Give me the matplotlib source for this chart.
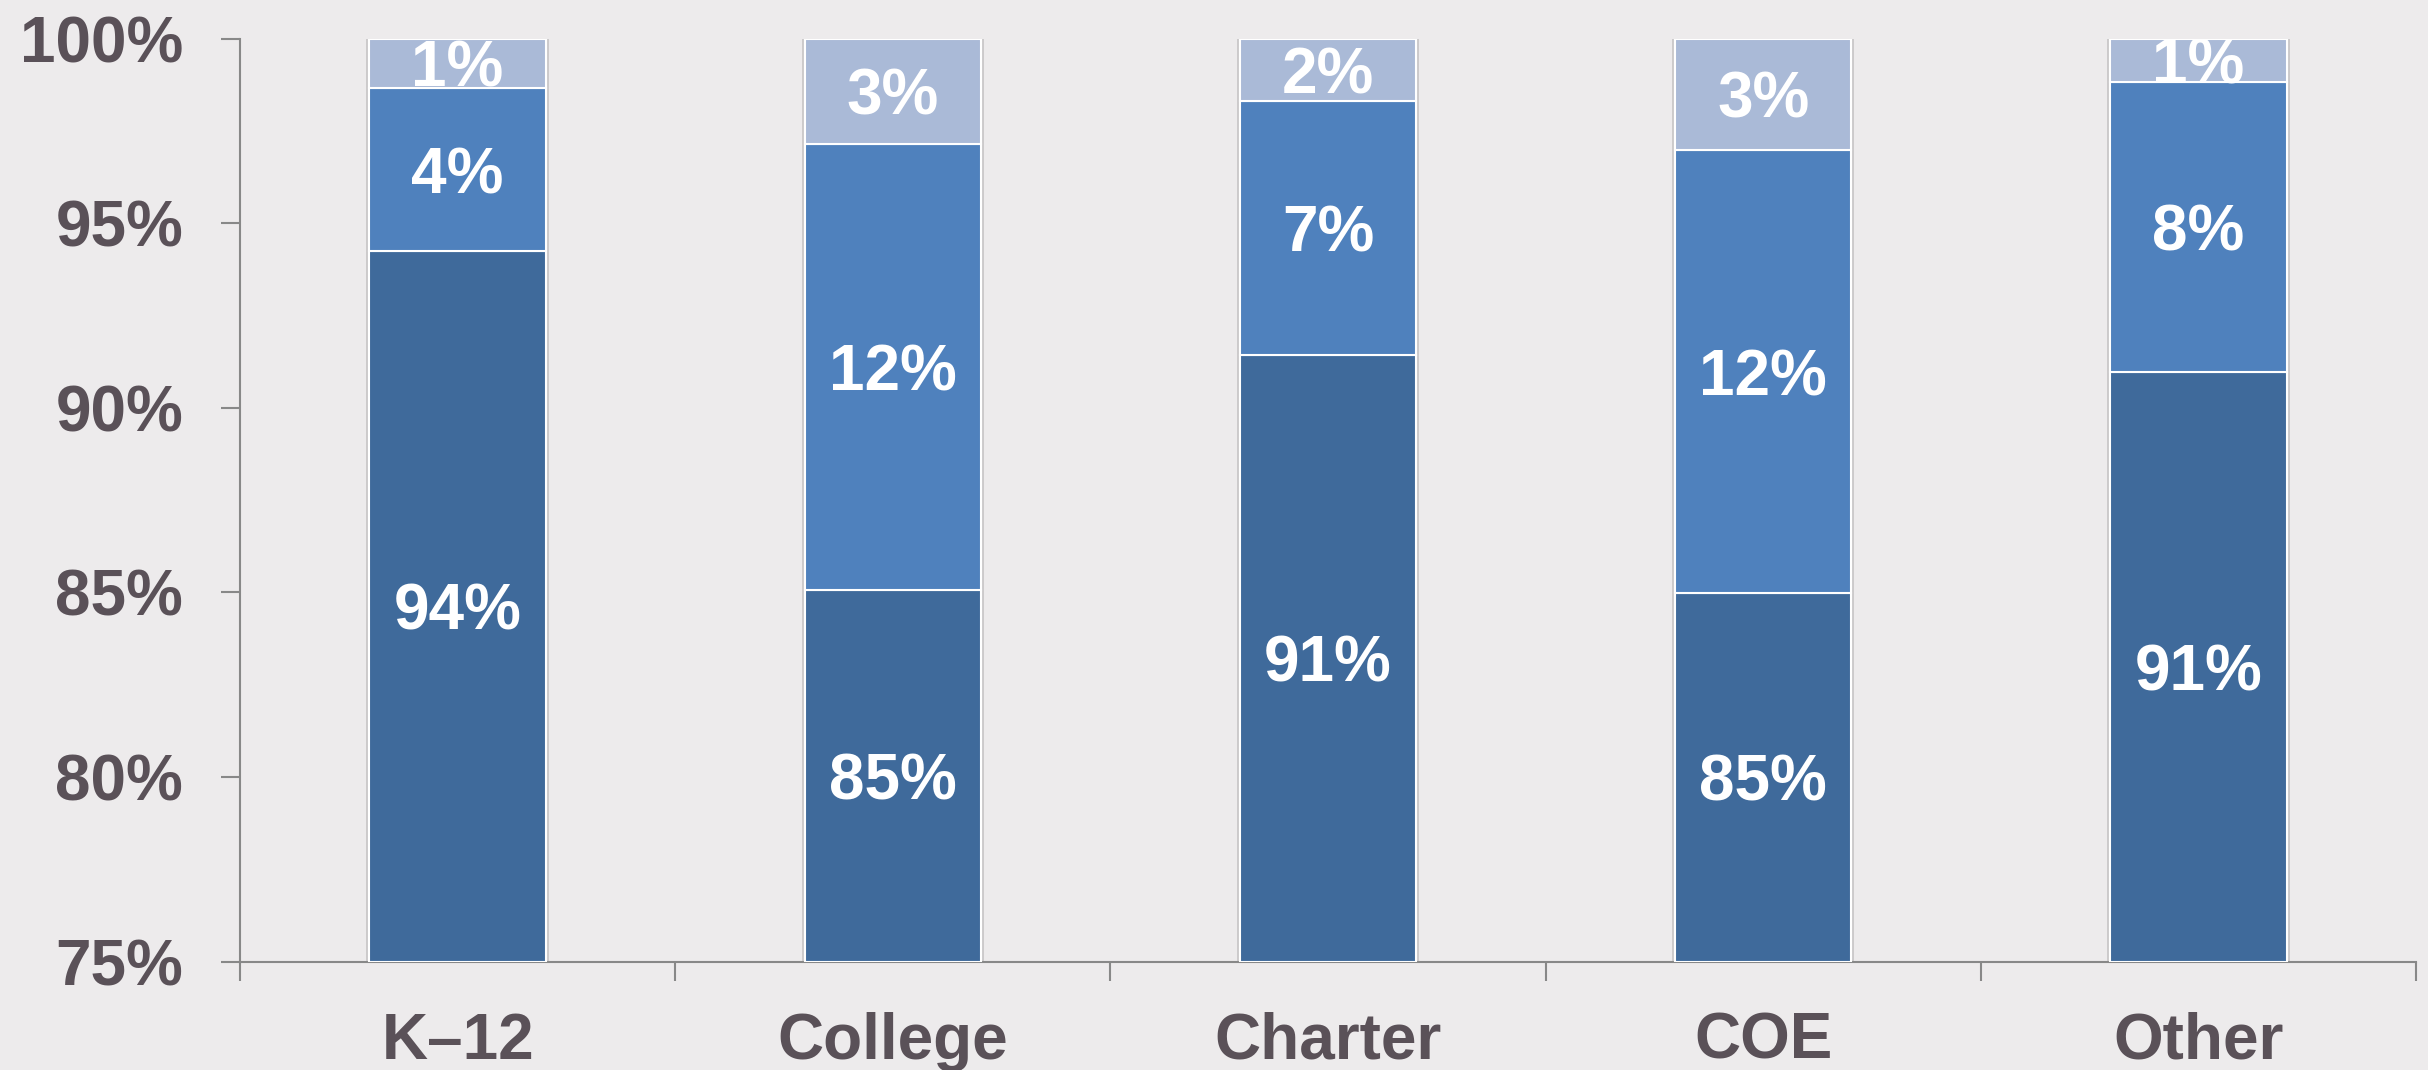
import matplotlib
matplotlib.use("Agg")
import matplotlib.pyplot as plt
import numpy as np

categories = ["K\u201312", "College", "Charter", "COE", "Other"]
seg_bottom = [94.25, 85.07, 91.44, 84.98, 90.98]
seg_middle = [4.41, 12.08, 6.88, 12.00, 7.85]
seg_top = [1.34, 2.85, 1.68, 3.02, 1.17]
label_bottom = ["94%", "85%", "91%", "85%", "91%"]
label_middle = ["4%", "12%", "7%", "12%", "8%"]
label_top = ["1%", "3%", "2%", "3%", "1%"]
yticks = [75, 80, 85, 90, 95, 100]
ytick_labels = ["75%", "80%", "85%", "90%", "95%", "100%"]

bg = "#EDEBEC"
c_dark = "#3F6A9B"
c_mid = "#4F81BD"
c_light = "#AABAD7"
txt_col = "#5A5158"
axis_col = "#888888"

plt.rcParams['font.family'] = ['Liberation Sans', 'DejaVu Sans']

fig = plt.figure(figsize=(24.28, 10.70), dpi=100, facecolor=bg)
ax = fig.add_axes([240/2428, 1-961.6/1070, (2416-240)/2428, (961.6-38.7)/1070])
ax.set_facecolor(bg)

x = np.arange(len(categories))
w = 0.405
ymin = 75
b = np.array(seg_bottom)
m = np.array(seg_middle)
t = np.array(seg_top)

ax.bar(x, b - ymin, w, bottom=ymin, color=c_dark, edgecolor="white", linewidth=1.5, zorder=3)
ax.bar(x, m, w, bottom=b, color=c_mid, edgecolor="white", linewidth=1.5, zorder=3)
ax.bar(x, t, w, bottom=b + m, color=c_light, edgecolor="white", linewidth=1.5, zorder=3)
# subtle shadow behind bars
ax.bar(x, 100 - ymin, w + 0.014, bottom=ymin, color="#CCCACB", linewidth=0, zorder=2)

fs = 46
for i in range(len(categories)):
    ax.text(x[i], (ymin + b[i]) / 2, label_bottom[i], ha="center", va="center_baseline",
            color="white", fontsize=fs, fontweight="bold", zorder=5, clip_on=True)
    ax.text(x[i], b[i] + m[i] / 2, label_middle[i], ha="center", va="center_baseline",
            color="white", fontsize=fs, fontweight="bold", zorder=5, clip_on=True)
    ax.text(x[i], b[i] + m[i] + t[i] / 2, label_top[i], ha="center", va="center_baseline",
            color="white", fontsize=fs, fontweight="bold", zorder=5, clip_on=True)

ax.set_xlim(-0.5, len(categories) - 0.5)
ax.set_ylim(ymin, 100)

ax.set_yticks(yticks)
ax.set_yticklabels(ytick_labels)
ax.set_xticks(x)
ax.set_xticklabels(categories)
ax.set_xticks(np.arange(-0.5, len(categories), 1.0), minor=True)

for s in ["top", "right"]:
    ax.spines[s].set_visible(False)
for s in ["left", "bottom"]:
    ax.spines[s].set_color(axis_col)
    ax.spines[s].set_linewidth(1.5)

ax.tick_params(axis="y", which="major", length=14, width=1.5, color=axis_col,
               labelsize=fs, labelcolor=txt_col, pad=27)
ax.tick_params(axis="x", which="major", length=0, labelsize=fs, labelcolor=txt_col, pad=36)
ax.tick_params(axis="x", which="minor", length=14, width=1.5, color=axis_col, direction="out")
for lab in ax.get_yticklabels() + ax.get_xticklabels():
    lab.set_fontweight("bold")

fig.savefig("out.png", dpi=100, facecolor=bg)
